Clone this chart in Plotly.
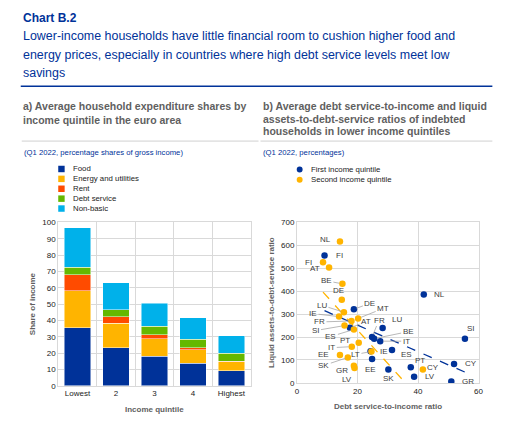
import numpy as np
import plotly.graph_objects as go

# ---------------- data ----------------
quintiles = ["Lowest", "2", "3", "4", "Highest"]
food = [35.4, 23.4, 18.0, 13.8, 9.2]
energy = [22.8, 14.8, 10.8, 8.2, 5.4]
rent = [9.8, 4.2, 2.6, 1.4, 0.6]
debt_service = [4.4, 4.0, 5.0, 5.2, 4.6]
non_basic = [24.4, 16.6, 14.2, 13.0, 10.8]
bar_series = ["Food", "Energy and utilities", "Rent", "Debt service", "Non-basic"]

q1_countries = ["FI", "NL", "DE", "AT", "LU", "FR", "BE", "IT", "ES", "IE", "EE", "SK", "PT", "LV", "CY", "GR", "SI"]
q1_dsti = [9.1, 41.9, 18.8, 17.5, 28.3, 24.8, 25.5, 27.5, 31.4, 24.3, 24.8, 30.2, 37.6, 38.7, 51.9, 51.0, 55.5]
q1_lads = [555, 385, 321, 240, 239, 200, 193, 182, 144, 138, 104, 58, 68, 27, 83, 6, 193]

q2_countries = ["NL", "FI", "AT", "BE", "DE", "LU", "IE", "MT", "FR", "SI", "ES", "PT", "IT", "EE", "SK", "GR", "LV", "LT", "CY"]
q2_dsti = [14.2, 8.6, 10.6, 15.0, 14.8, 15.5, 13.9, 20.2, 18.0, 15.7, 18.8, 20.4, 18.1, 14.2, 16.8, 18.8, 19.0, 24.6, 41.6]
q2_lads = [617, 526, 503, 432, 362, 308, 289, 281, 270, 250, 233, 175, 158, 122, 111, 75, 65, 137, 58]
scatter_series = ["First income quintile", "Second income quintile"]

# ---------------- styles ----------------
W, H = 524, 431
FONT = "Liberation Sans, Arial, sans-serif"
DARKBLUE = "#003299"
bar_colors = ["#003299", "#FFB400", "#FF4B00", "#65B800", "#00B1EA"]
q_colors = ["#003299", "#FFB400"]
GRID = "#d9d9d9"
TXT = "#404040"
GREY_T = "#5f5f5f"

def px(x):
    return x / W

def py(y):
    return 1 - y / H

fig = go.Figure()

for name, vals, col in zip(bar_series, [food, energy, rent, debt_service, non_basic], bar_colors):
    fig.add_trace(go.Bar(x=quintiles, y=vals, name=name, marker_color=col,
                         marker_line=dict(color="rgba(255,255,255,0.6)", width=0.8),
                         showlegend=False, xaxis="x", yaxis="y"))

# scatter + trend lines
for cx, cy, col, name in [(q1_dsti, q1_lads, q_colors[0], scatter_series[0]),
                          (q2_dsti, q2_lads, q_colors[1], scatter_series[1])]:
    a, b = np.polyfit(cx, cy, 1)
    xs = np.array([min(cx), max(cx)])
    fig.add_trace(go.Scatter(x=xs, y=a * xs + b, mode="lines",
                             line=dict(color=col, width=1.3, dash="dash"),
                             showlegend=False, xaxis="x2", yaxis="y2", hoverinfo="skip"))
for cx, cy, col, name, cc in [(q1_dsti, q1_lads, q_colors[0], scatter_series[0], q1_countries),
                              (q2_dsti, q2_lads, q_colors[1], scatter_series[1], q2_countries)]:
    fig.add_trace(go.Scatter(x=cx, y=cy, mode="markers", name=name, text=cc,
                             marker=dict(color=col, size=6.5),
                             showlegend=False, xaxis="x2", yaxis="y2"))

# label offsets (pixels) and leader-line flags
q1_off = {"FI": (15, 0, 0), "NL": (16, 0, 0), "DE": (16, -6, 1), "AT": (16, -6, 1), "LU": (14, -9, 0),
          "FR": (7, -17, 1), "BE": (34, -7, 1), "IT": (26, 0, 1), "ES": (14, 5, 0), "IE": (13, 0, 0),
          "EE": (-2, 10, 0), "SK": (0, 9, 0), "PT": (9, -7, 0), "LV": (16, 0, 0), "CY": (17, 0, 0),
          "GR": (17, 0, 0), "SI": (6, -10, 0)}
q2_off = {"NL": (-14, -2, 0), "FI": (-15, 0, 0), "AT": (-14, 1, 0), "BE": (-16, -3, 1), "DE": (-3, -9, 0),
          "LU": (-22, -7, 1), "IE": (-26, -3, 1), "MT": (25, -10, 1), "FR": (-32, 1, 1), "SI": (-29, 5, 1),
          "ES": (-23, 7, 1), "PT": (-14, -2, 0), "IT": (-20, 1, 1), "EE": (-16, 0, 0), "SK": (-24, 8, 1),
          "GR": (-12, 5, 0), "LV": (-7, 11, 0), "LT": (-16, 3, 1), "CY": (10, -2, 0)}

annotations = []
for cc, cx, cy, off in [(q1_countries, q1_dsti, q1_lads, q1_off), (q2_countries, q2_dsti, q2_lads, q2_off)]:
    for c, xv, yv in zip(cc, cx, cy):
        ax, ay, line = off[c]
        annotations.append(dict(x=xv, y=yv, xref="x2", yref="y2", text=c, showarrow=True,
                                ax=ax, ay=ay, arrowhead=0, arrowwidth=0.8, standoff=3,
                                arrowcolor="#a6a6a6" if line else "rgba(0,0,0,0)",
                                font=dict(family=FONT, size=8, color=TXT)))

def text(x, y, s, size, color, bold=False, xanchor="left", angle=0):
    annotations.append(dict(x=px(x), y=py(y), xref="paper", yref="paper", text=f"<b>{s}</b>" if bold else s,
                            showarrow=False, xanchor=xanchor, yanchor="middle", textangle=angle,
                            font=dict(family=FONT, size=size, color=color)))

# titles
text(19, 14, "Chart B.2", 12, DARKBLUE, bold=True)
text(19, 33, "Lower-income households have little financial room to cushion higher food and", 12.45, DARKBLUE)
text(19, 52, "energy prices, especially in countries where high debt service levels meet low", 12.45, DARKBLUE)
text(19, 70, "savings", 12.45, DARKBLUE)

text(19, 104, "a) Average household expenditure shares by", 10.5, GREY_T, bold=True)
text(19, 118, "income quintile in the euro area", 10.5, GREY_T, bold=True)
text(262, 104, "b) Average debt service-to-income and liquid", 10.5, GREY_T, bold=True)
text(262, 117, "assets-to-debt-service ratios of indebted", 10.5, GREY_T, bold=True)
text(262, 130, "households in lower income quintiles", 10.5, GREY_T, bold=True)
text(20, 152, "(Q1 2022, percentage shares of gross income)", 7.7, DARKBLUE)
text(262, 152, "(Q1 2022, percentages)", 7.7, DARKBLUE)

shapes = [
    dict(type="line", xref="paper", yref="paper", x0=px(19), x1=px(497), y0=py(84), y1=py(84),
         line=dict(color=DARKBLUE, width=1.5)),
    dict(type="line", xref="paper", yref="paper", x0=px(20), x1=px(260), y0=py(140), y1=py(140),
         line=dict(color="#d0d0d0", width=1)),
    dict(type="line", xref="paper", yref="paper", x0=px(262), x1=px(497), y0=py(140), y1=py(140),
         line=dict(color="#d0d0d0", width=1)),
]

# legend a
for i, (name, col) in enumerate(zip(bar_series, bar_colors)):
    yc = 168.5 + i * 10.1
    shapes.append(dict(type="rect", xref="paper", yref="paper", x0=px(57), x1=px(63.5),
                       y0=py(yc + 3.3), y1=py(yc - 3.3), fillcolor=col, line=dict(width=0)))
    text(69.5, yc, name, 7.8, "#222222")
# legend b
for i, (name, col) in enumerate(zip(scatter_series, q_colors)):
    yc = 169 + i * 10.5
    shapes.append(dict(type="circle", xref="paper", yref="paper", x0=px(298.7), x1=px(304.7),
                       y0=py(yc + 3), y1=py(yc - 3), fillcolor=col, line=dict(width=0)))
    text(311.5, yc, name, 7.8, "#222222")

# axis titles
text(31, 306, "Share of income", 8, GREY_T, bold=True, xanchor="center", angle=-90)
text(155, 414, "Income quintile", 8, GREY_T, bold=True, xanchor="center")
text(273, 305, "Liquid assets-to-debt-service ratio", 8, GREY_T, bold=True, xanchor="center", angle=-90)
text(391, 411, "Debt service-to-income ratio", 8, GREY_T, bold=True, xanchor="center")

axis_common = dict(showgrid=True, gridcolor=GRID, gridwidth=1, zeroline=False, showline=True,
                   linecolor=GRID, mirror=True, ticks="", tickfont=dict(family=FONT, size=8, color="#222222"))

fig.update_layout(
    width=W, height=H, margin=dict(l=0, r=0, t=0, b=0),
    paper_bgcolor="white", plot_bgcolor="white",
    barmode="stack", bargap=0.31,
    font=dict(family=FONT),
    xaxis=dict(domain=[px(57), px(252)], anchor="y", type="category", tickson="boundaries", **axis_common),
    yaxis=dict(domain=[py(390), py(223)], anchor="x", range=[0, 100], dtick=10, **axis_common),
    xaxis2=dict(domain=[px(299), px(483)], anchor="y2", range=[0, 60], dtick=20, **axis_common),
    yaxis2=dict(domain=[py(387), py(223)], anchor="x2", range=[0, 700], dtick=100, **axis_common),
    annotations=annotations, shapes=shapes, showlegend=False, hovermode=False,
)

fig.write_html("out.html", config={"displayModeBar": False, "staticPlot": True},
               post_script="document.body.style.margin='0px';document.body.style.overflow='hidden';")
